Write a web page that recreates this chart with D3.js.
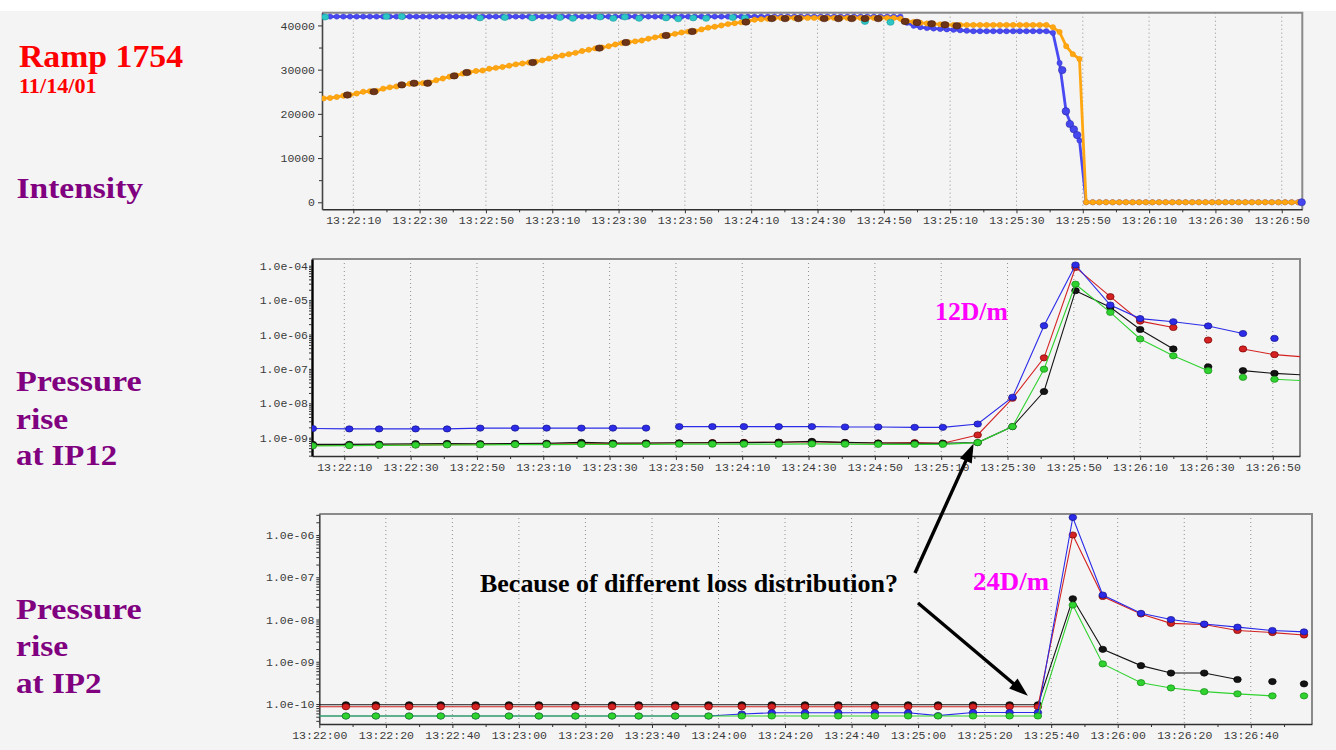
<!DOCTYPE html>
<html>
<head>
<meta charset="utf-8">
<script src="https://cdn.jsdelivr.net/npm/d3@7"></script>
<style>
  html, body { margin: 0; padding: 0; background: #f4f4f4; }
  svg { display: block; }
  .tick text { font-family: "Liberation Mono", "DejaVu Sans Mono", monospace; font-size: 11.5px; fill: #3a3a3a; }
  .lbl { font-family: "Liberation Serif", "Times New Roman", serif; font-weight: bold; }
</style>
</head>
<body>
<svg id="chart" width="1336" height="750"></svg>
<script>
// ---------------- tick labels ----------------
const intensityXTickLabels = ["13:22:10","13:22:30","13:22:50","13:23:10","13:23:30","13:23:50","13:24:10","13:24:30","13:24:50","13:25:10","13:25:30","13:25:50","13:26:10","13:26:30","13:26:50"];
const ip12XTickLabels = ["13:22:10","13:22:30","13:22:50","13:23:10","13:23:30","13:23:50","13:24:10","13:24:30","13:24:50","13:25:10","13:25:30","13:25:50","13:26:10","13:26:30","13:26:50"];
const ip2XTickLabels = ["13:22:00","13:22:20","13:22:40","13:23:00","13:23:20","13:23:40","13:24:00","13:24:20","13:24:40","13:25:00","13:25:20","13:25:40","13:26:00","13:26:20","13:26:40"];
const intensityYTickLabels = ["0","10000","20000","30000","40000"];
const ip12YTickLabels = ["1.0e-09","1.0e-08","1.0e-07","1.0e-06","1.0e-05","1.0e-04"];
const ip2YTickLabels = ["1.0e-10","1.0e-09","1.0e-08","1.0e-07","1.0e-06"];

// ---------------- intensity (seconds after 13:22:00) ----------------
const intensitySampleStart = 1;   // first logged sample, s
const intensitySampleStep = 2;    // logging interval, s
const intensityOrange = [
  23500,23600,23800,24100,24300,24600,25000,25100,25200,25700,
  26000,26200,26500,26800,26900,26950,27100,27600,28000,28400,
  28700,29100,29400,29700,29800,30200,30400,30600,30900,31200,
  31400,31600,31800,32100,32500,32900,33200,33500,33800,34200,
  34500,34800,35000,35300,35700,36000,36200,36400,36600,37000,
  37300,37600,37800,38100,38400,38600,38700,39100,39500,39700,
  40000,40300,40500,40700,41000,41300,41400,41500,
  41700,41700,41700,41700,41700,41700,41700,41700,41700,41700,
  41700,41700,41700,41700,41700,41700,41700,41700,41700,
  41500,41000,40800,40600,40450,40350,40250,40150,
  40100,40100,40100,40100,40100,40100,40100,40100,40100,40100,
  40100,40100,40100,40100,40100,
  39600,38500,35300,33500,32400,
  0,0,0,0,0,0,0,0,0,0,0,0,0,0,0,0,0,0,0,0,0,0,0,0,0,0,0,0,0,0,0,0,0
];
const intensityBlue = [
  42000,42000,42000,42000,42000,42000,42000,42000,42000,42000,
  42000,42000,42000,42000,42000,42000,42000,42000,42000,42000,
  42000,42000,42000,42000,42000,42000,42000,42000,42000,42000,
  42000,42000,42000,42000,42000,42000,42000,42000,42000,42000,
  42000,42000,42000,42000,42000,42000,42000,42000,42000,42000,
  42000,42000,42000,42000,42000,42000,42000,42000,42000,42000,
  42000,42000,42000,42000,42000,42000,42000,42000,42000,42000,
  42000,42000,42000,42000,42000,42000,42000,42000,42000,42000,
  42000,42000,42000,42000,42000,42000,42000,42000,
  40600,39900,39600,39400,39300,39200,39100,39000,38900,38800,
  38700,38700,38700,38700,38700,38700,38700,38700,38700,38700,38700,38700,
  38300,31500,20300,16700,14000,
  0,0,0,0,0,0,0,0,0,0,0,0,0,0,0,0,0,0,0,0,0,0,0,0,0,0,0,0,0,0,0,0,0
];
const cyanTimes  = [1.5,20,24.6,48.2,55.7,64,72.3,76.2,84.4,88.4,91.9,96.2,104.3,108,112.5,116.4,124.4,128.1,164.3,172];
const cyanValues = [41900,42000,42000,41700,41800,41700,41800,41600,41900,41600,41900,41600,41700,41500,41700,41600,41800,41700,40900,40700];
const brownTimes  = [8.2,16.2,24.6,28.3,32.4,40.4,44.2,64.1,84.2,92.2,104.3,112.2,128.4,136.2,140.2,144.2,152,156.3,160.3,164.3,168.3,176.4,180,184.4,188.4,192];
const brownValues = [24270,25020,26550,26930,26930,28590,29340,31600,34870,36140,37730,38640,40770,41550,41550,41550,41550,41550,41550,41550,41550,40900,40680,40390,40160,39930];
const blueDropTimes  = [223.8,224.9,226.1,227.3,228.3,296];
const blueDropValues = [29900,20600,17700,16500,15200,0];

// ---------------- pressure at IP12 ----------------
const ip12Times = [0.5,11.5,20.5,31.5,41,51,61.5,71,81.5,91,101,111,121,130.5,141,151,161,171,182,190.5,201,211.5,221,230.5,241,250,260,270.5,281,290.5,300];
const ip12Blue  = [1.85e-9,1.8e-9,1.8e-9,1.8e-9,1.8e-9,1.9e-9,1.9e-9,1.9e-9,1.9e-9,1.9e-9,1.9e-9,2.1e-9,2.1e-9,2.1e-9,2.1e-9,2.1e-9,2.05e-9,2.05e-9,2.0e-9,2.0e-9,2.5e-9,1.5e-8,1.8e-6,1.05e-4,7.2e-6,2.9e-6,2.35e-6,1.77e-6,1.07e-6,7.7e-7,null];
const ip12Red   = [6.0e-10,6.0e-10,6.1e-10,6.2e-10,6.3e-10,6.4e-10,6.5e-10,6.6e-10,6.7e-10,6.8e-10,6.9e-10,7.0e-10,7.2e-10,7.3e-10,7.4e-10,7.6e-10,7.2e-10,7.0e-10,7.2e-10,6.9e-10,1.2e-9,1.4e-8,2.1e-7,8.9e-5,1.26e-5,2.45e-6,1.6e-6,6.9e-7,3.8e-7,2.6e-7,2.2e-7];
const ip12Black = [6.4e-10,6.4e-10,6.5e-10,6.7e-10,6.8e-10,6.7e-10,6.8e-10,6.9e-10,7.3e-10,7.0e-10,7.0e-10,7.1e-10,7.1e-10,7.2e-10,7.4e-10,7.8e-10,7.3e-10,7.0e-10,6.9e-10,6.9e-10,7.2e-10,2.1e-9,2.2e-8,1.88e-5,6.2e-6,1.4e-6,3.8e-7,1.15e-7,8.9e-8,7.4e-8,6.6e-8];
const ip12Green = [5.8e-10,5.9e-10,6.0e-10,6.1e-10,6.2e-10,6.2e-10,6.3e-10,6.3e-10,6.4e-10,6.4e-10,6.4e-10,6.5e-10,6.5e-10,6.5e-10,6.5e-10,6.6e-10,6.5e-10,6.4e-10,6.4e-10,6.4e-10,7.2e-10,2.1e-9,9.8e-8,2.9e-5,4.4e-6,7.4e-7,2.4e-7,8.9e-8,5.7e-8,5.0e-8,4.5e-8];
// indices where the logged trace restarts (no segment drawn into them)
const ip12BlueGaps  = [11, 29];
const ip12RedGaps   = [27, 28];
const ip12BlackGaps = [27, 28];
const ip12GreenGaps = [28, 29];

// ---------------- pressure at IP2 ----------------
const ip2Times = [-2,8,17,27,36.5,47,57,66,77,88,96,107,117,127,136,146,156,167,177,186,196.5,207.5,216,226.5,235.5,247,256,266,276,286.5,296];
const ip2Blue  = [5.2e-11,5.2e-11,5.2e-11,5.2e-11,5.2e-11,5.2e-11,5.2e-11,5.2e-11,5.2e-11,5.2e-11,5.2e-11,5.2e-11,5.2e-11,5.8e-11,6.2e-11,6.2e-11,6.2e-11,6.2e-11,6.2e-11,5.3e-11,6.3e-11,6.3e-11,6.3e-11,2.6e-6,3.8e-8,1.4e-8,1.0e-8,7.8e-9,6.6e-9,5.5e-9,5.1e-9];
const ip2Red   = [8.6e-11,8.6e-11,8.6e-11,8.6e-11,8.6e-11,8.6e-11,8.6e-11,8.6e-11,8.6e-11,8.6e-11,8.6e-11,8.6e-11,8.6e-11,8.6e-11,8.6e-11,8.6e-11,8.6e-11,8.6e-11,8.6e-11,8.6e-11,8.6e-11,8.6e-11,8.6e-11,1.0e-6,3.5e-8,1.35e-8,8.1e-9,7.6e-9,5.5e-9,4.9e-9,4.3e-9];
const ip2Black = [9.6e-11,9.6e-11,9.6e-11,9.6e-11,9.6e-11,9.6e-11,9.6e-11,9.6e-11,9.6e-11,9.6e-11,9.6e-11,9.6e-11,9.6e-11,9.6e-11,9.6e-11,9.6e-11,9.6e-11,9.6e-11,9.6e-11,9.6e-11,9.6e-11,9.6e-11,9.6e-11,3.1e-8,1.97e-9,8.1e-10,5.4e-10,5.4e-10,3.8e-10,3.4e-10,3.0e-10];
const ip2Green = [5.2e-11,5.2e-11,5.2e-11,5.2e-11,5.2e-11,5.2e-11,5.2e-11,5.2e-11,5.2e-11,5.2e-11,5.2e-11,5.2e-11,5.2e-11,5.2e-11,5.2e-11,5.2e-11,5.2e-11,5.2e-11,5.2e-11,5.2e-11,5.2e-11,5.2e-11,5.2e-11,2.2e-8,8.9e-10,3.2e-10,2.4e-10,1.96e-10,1.74e-10,1.56e-10,1.56e-10];
const ip2BlueGaps  = [];
const ip2RedGaps   = [];
const ip2BlackGaps = [29, 30];
const ip2GreenGaps = [30];

// ---------------- helpers ----------------
const svg = d3.select("#chart");
svg.append("rect").attr("width", 1336).attr("height", 750).attr("fill", "#f4f4f4");
svg.append("rect").attr("width", 1336).attr("height", 11).attr("fill", "#ffffff");

// seconds after 13:22:00 for an "HH:MM:SS" label
const toSecs = s => { const p = s.split(":").map(Number); return p[0] * 3600 + p[1] * 60 + p[2] - (13 * 3600 + 22 * 60); };

const COLORS = {
  blue:  { fill: "#2b2be8", stroke: "#14148c" },
  red:   { fill: "#d42222", stroke: "#7a0000" },
  black: { fill: "#141414", stroke: "#000000" },
  green: { fill: "#2fd22f", stroke: "#168a16" }
};

function drawFrame(p) {
  const g = svg.append("g");
  const majors = p.xLabels.map(toSecs);
  const minors = d3.range(0, 301, 10).filter(v => v >= p.x.domain()[0] && v <= p.x.domain()[1] && !majors.includes(v));
  // vertical dotted grid
  g.selectAll("line.grid").data(majors).join("line")
    .attr("x1", d => p.x(d)).attr("x2", d => p.x(d))
    .attr("y1", p.y.range()[1]).attr("y2", p.y.range()[0])
    .attr("stroke", "#8f8f8f").attr("stroke-width", 1).attr("stroke-dasharray", "1,3");
  const [x0, x1] = p.x.range(), [yb, yt] = p.y.range();
  // top and right border
  g.append("path").attr("d", `M${x0},${yt}H${x1}V${yb}`).attr("fill", "none").attr("stroke", "#8a8a8a").attr("stroke-width", 2);
  // x axis
  const xa = g.append("g").attr("transform", `translate(0,${yb})`)
    .call(d3.axisBottom(p.x).tickValues(majors).tickFormat((d, i) => p.xLabels[i]).tickSize(4).tickSizeOuter(0).tickPadding(p.xPad));
  xa.select(".domain").attr("stroke", "#303030").attr("stroke-width", 1.6);
  xa.selectAll(".tick line").attr("stroke", "#333");
  g.append("g").attr("transform", `translate(0,${yb})`)
    .call(d3.axisBottom(p.x).tickValues(minors).tickFormat("").tickSize(3).tickSizeOuter(0))
    .call(s => s.select(".domain").remove())
    .selectAll(".tick line").attr("stroke", "#333");
  // y axis
  const ya = g.append("g").attr("transform", `translate(${x0},0)`)
    .call(d3.axisLeft(p.y).tickValues(p.yLabels.map(Number)).tickFormat((d, i) => p.yLabels[i]).tickSize(p.yTick).tickSizeOuter(0).tickPadding(p.yPad));
  ya.select(".domain").attr("stroke", p.yAxisColor).attr("stroke-width", p.yAxisWidth);
  ya.selectAll(".tick line").attr("stroke", "#333");
  if (p.yMinor.length) {
    g.append("g").attr("transform", `translate(${x0},0)`)
      .call(d3.axisLeft(p.y).tickValues(p.yMinor).tickFormat("").tickSize(3).tickSizeOuter(0))
      .call(s => s.select(".domain").remove())
      .selectAll(".tick line").attr("stroke", "#333");
  }
  // clip region for data
  const id = "clip-" + p.name;
  svg.append("clipPath").attr("id", id).append("rect")
    .attr("x", x0).attr("y", yt).attr("width", x1 - x0).attr("height", yb - yt);
  return svg.append("g").attr("clip-path", `url(#${id})`);
}

function logMinors(scale) {
  const [lo, hi] = scale.domain();
  const out = [];
  for (let e = Math.floor(Math.log10(lo)); e <= Math.ceil(Math.log10(hi)); e++)
    for (let k = 2; k <= 9; k++) { const v = k * Math.pow(10, e); if (v > lo && v < hi) out.push(v); }
  return out;
}

// split a logged trace into connected runs
function runs(times, vals, gaps) {
  const out = []; let cur = [];
  vals.forEach((v, i) => {
    if (v == null) { if (cur.length) out.push(cur); cur = []; return; }
    if (gaps.includes(i) && cur.length) { out.push(cur); cur = []; }
    cur.push([times[i], v]);
  });
  if (cur.length) out.push(cur);
  return out;
}

function drawTrace(g, p, times, vals, gaps, col) {
  const line = d3.line().x(d => p.x(d[0])).y(d => p.y(d[1]));
  g.append("g").selectAll("path").data(runs(times, vals, gaps)).join("path")
    .attr("d", line).attr("fill", "none").attr("stroke", col.fill).attr("stroke-width", 1.1);
  const pts = times.map((t, i) => [t, vals[i]]).filter(d => d[1] != null);
  g.append("g").selectAll("ellipse").data(pts).join("ellipse")
    .attr("cx", d => p.x(d[0])).attr("cy", d => p.y(d[1]))
    .attr("rx", 3.8).attr("ry", 3.1)
    .attr("fill", col.fill).attr("stroke", col.stroke).attr("stroke-width", 0.7);
}

// ---------------- intensity panel ----------------
const pTop = {
  name: "intensity",
  x: d3.scaleLinear().domain([0.56, 296.2]).range([322, 1302.3]),
  y: d3.scaleLinear().domain([-1590, 42880]).range([209.3, 12.7]),
  xLabels: intensityXTickLabels, yLabels: intensityYTickLabels,
  yMinor: [5000, 15000, 25000, 35000],
  xPad: 3, yPad: 3, yTick: 4, yAxisColor: "#444", yAxisWidth: 1.6
};
const gTop = drawFrame(pTop);
const intensityTimes = intensityOrange.map((_, i) => intensitySampleStart + i * intensitySampleStep);

function drawDense(g, vals, color, edge) {
  const pts = intensityTimes.map((t, i) => [t, vals[i]]);
  g.append("path").datum(pts)
    .attr("d", d3.line().x(d => pTop.x(d[0])).y(d => pTop.y(d[1])))
    .attr("fill", "none").attr("stroke", color).attr("stroke-width", 2.8);
  g.append("g").selectAll("circle").data(pts).join("circle")
    .attr("cx", d => pTop.x(d[0])).attr("cy", d => pTop.y(d[1])).attr("r", 2.7)
    .attr("fill", color).attr("stroke", edge).attr("stroke-width", 0.4);
}
drawDense(gTop, intensityBlue, "#4a4af2", "#3434c8");
drawDense(gTop, intensityOrange, "#ffa712", "#f09000");

function drawMarkers(g, times, vals, fill, stroke, rx, ry) {
  g.append("g").selectAll("ellipse").data(times.map((t, i) => [t, vals[i]])).join("ellipse")
    .attr("cx", d => pTop.x(d[0])).attr("cy", d => pTop.y(d[1]))
    .attr("rx", rx).attr("ry", ry).attr("fill", fill).attr("stroke", stroke).attr("stroke-width", 0.6);
}
drawMarkers(gTop, cyanTimes, cyanValues, "#2cc6c6", "#1a9a9a", 3.6, 3.0);
drawMarkers(gTop, brownTimes, brownValues, "#6e3418", "#4a200c", 4.0, 3.2);
drawMarkers(svg, blueDropTimes, blueDropValues, "#4646ee", "#2a2aaa", 3.8, 3.6);

// ---------------- IP12 panel ----------------
const yIp12 = d3.scaleLog().domain([Math.pow(10, -9.532), Math.pow(10, -3.805)]).range([456, 259]);
const pMid = {
  name: "ip12",
  x: d3.scaleLinear().domain([0.26, 298.2]).range([312, 1300]),
  y: yIp12,
  xLabels: ip12XTickLabels, yLabels: ip12YTickLabels,
  yMinor: logMinors(yIp12),
  xPad: 3, yPad: 1, yTick: 3, yAxisColor: "#000", yAxisWidth: 2.4
};
const gMid = drawFrame(pMid);
drawTrace(gMid, pMid, ip12Times, ip12Red, ip12RedGaps, COLORS.red);
drawTrace(gMid, pMid, ip12Times, ip12Black, ip12BlackGaps, COLORS.black);
drawTrace(gMid, pMid, ip12Times, ip12Blue, ip12BlueGaps, COLORS.blue);
drawTrace(gMid, pMid, ip12Times, ip12Green, ip12GreenGaps, COLORS.green);

// ---------------- IP2 panel ----------------
const yIp2 = d3.scaleLog().domain([Math.pow(10, -10.473), Math.pow(10, -5.503)]).range([724, 514]);
const pBot = {
  name: "ip2",
  x: d3.scaleLinear().domain([0, 298.4]).range([319.3, 1312]),
  y: yIp2,
  xLabels: ip2XTickLabels, yLabels: ip2YTickLabels,
  yMinor: logMinors(yIp2),
  xPad: 2.5, yPad: 2, yTick: 3, yAxisColor: "#444", yAxisWidth: 1.6
};
const gBot = drawFrame(pBot);
drawTrace(gBot, pBot, ip2Times, ip2Black, ip2BlackGaps, COLORS.black);
drawTrace(gBot, pBot, ip2Times, ip2Red, ip2RedGaps, COLORS.red);
drawTrace(gBot, pBot, ip2Times, ip2Blue, ip2BlueGaps, COLORS.blue);
drawTrace(gBot, pBot, ip2Times, ip2Green, ip2GreenGaps, COLORS.green);

// ---------------- side titles ----------------
function label(x, y, text, size, color, len) {
  svg.append("text").attr("class", "lbl").attr("x", x).attr("y", y)
    .attr("font-size", size).attr("fill", color)
    .attr("textLength", len).attr("lengthAdjust", "spacingAndGlyphs").text(text);
}
const RED = "#ff0000", PURPLE = "#800080", MAGENTA = "#ff00ff";
label(19, 66.7, "Ramp 1754", 32, RED, 164);
label(19, 93.3, "11/14/01", 21, RED, 77.7);
label(16.5, 198.3, "Intensity", 29, PURPLE, 126.6);
label(16, 390.7, "Pressure", 29, PURPLE, 125.7);
label(16, 429, "rise", 29, PURPLE, 52.3);
label(16, 465, "at IP12", 29, PURPLE, 101.3);
label(16, 619, "Pressure", 29, PURPLE, 125.7);
label(16, 656, "rise", 29, PURPLE, 52.3);
label(16, 693.3, "at IP2", 29, PURPLE, 85.7);

label(935, 320, "12D/m", 26, MAGENTA, 73);
label(973, 590, "24D/m", 26, MAGENTA, 76);
label(480, 592, "Because of different loss distribution?", 26, "#000", 418);

// ---------------- arrows to the onset points ----------------
function arrow(x1, y1, x2, y2) {
  const a = Math.atan2(y2 - y1, x2 - x1), L = 19, Wd = 6.5;
  const bx = x2 - L * Math.cos(a), by = y2 - L * Math.sin(a);
  svg.append("line").attr("x1", x1).attr("y1", y1).attr("x2", bx + 2 * Math.cos(a)).attr("y2", by + 2 * Math.sin(a))
    .attr("stroke", "#000").attr("stroke-width", 3.4);
  svg.append("path")
    .attr("d", `M${x2},${y2}L${bx - Wd * Math.sin(a)},${by + Wd * Math.cos(a)}L${bx + Wd * Math.sin(a)},${by - Wd * Math.cos(a)}Z`)
    .attr("fill", "#000");
}
// onset of the rise in each panel (index 20 at IP12, index 22 at IP2)
arrow(915, 573, pMid.x(ip12Times[20]) - 4, pMid.y(ip12Green[20]) + 1);
arrow(918, 603, pBot.x(ip2Times[22]) - 10, pBot.y(ip2Red[22]) - 11);
</script>
</body>
</html>
